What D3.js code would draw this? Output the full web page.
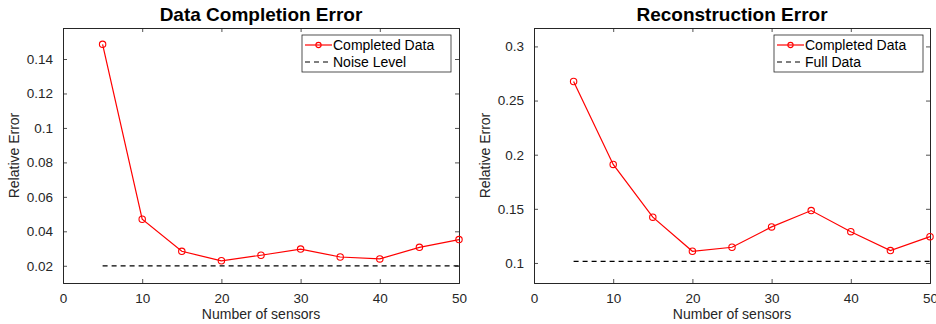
<!DOCTYPE html>
<html>
<head>
<meta charset="utf-8">
<script src="https://cdn.jsdelivr.net/npm/d3@7"></script>
<style>
    body { margin: 0; background: #fff; }
    svg { display: block; font-family: "Liberation Sans", Arial, Helvetica, sans-serif; }
</style>
</head>
<body>
<svg id="chart" width="936" height="324"></svg>
<script>
var sensors = [5, 10, 15, 20, 25, 30, 35, 40, 45, 50];
var xTicks = [0, 10, 20, 30, 40, 50];

var completionError = [0.1485, 0.047, 0.0284, 0.0229, 0.0261, 0.0297, 0.0251, 0.0240, 0.0307, 0.0352];
var noiseLevel = 0.0199;
var completionYTicks = [0.02, 0.04, 0.06, 0.08, 0.1, 0.12, 0.14];
var completionYLim = [0.01, 0.158];

var reconstructionError = [0.2676, 0.191, 0.1423, 0.1108, 0.1145, 0.1333, 0.1484, 0.1289, 0.1114, 0.1243];
var fullDataLevel = 0.1015;
var reconstructionYTicks = [0.1, 0.15, 0.2, 0.25, 0.3];
var reconstructionYLim = [0.0815, 0.317];

(function chartDefinition() {
    'use strict';

    var svg = d3.select('#chart');
    var axisColor = '#262626';

    drawPanel({
        left: 63, right: 459, top: 28, bottom: 283,
        title: 'Data Completion Error',
        values: completionError,
        level: noiseLevel,
        yTicks: completionYTicks,
        yLim: completionYLim,
        legend: ['Completed Data', 'Noise Level'],
        legendX: 302
    });

    drawPanel({
        left: 534, right: 930, top: 28, bottom: 283,
        title: 'Reconstruction Error',
        values: reconstructionError,
        level: fullDataLevel,
        yTicks: reconstructionYTicks,
        yLim: reconstructionYLim,
        legend: ['Completed Data', 'Full Data'],
        legendX: 774
    });

    function drawPanel(p) {
        var g = svg.append('g');

        var x = d3.scaleLinear().domain([0, 50]).range([p.left, p.right]);
        var y = d3.scaleLinear().domain(p.yLim).range([p.bottom, p.top]);

        /* axes (inward ticks, mirrored) */

        var axes = [
            d3.axisBottom(x).tickValues(xTicks).tickSize(-4).tickPadding(10).tickFormat(d3.format('d')),
            d3.axisTop(x).tickValues(xTicks).tickSize(-4).tickFormat(''),
            d3.axisLeft(y).tickValues(p.yTicks).tickSize(-4).tickPadding(10).tickFormat(d3.format('')),
            d3.axisRight(y).tickValues(p.yTicks).tickSize(-4).tickFormat('')
        ];
        var shifts = ['0,' + p.bottom, '0,' + p.top, p.left + ',0', p.right + ',0'];

        axes.forEach(function (axis, i) {
            var a = g.append('g')
                .attr('transform', 'translate(' + shifts[i] + ')')
                .call(axis)
            ;
            a.select('.domain').attr('stroke', axisColor).attr('stroke-width', 1);
            a.selectAll('.tick line').attr('stroke', axisColor).attr('stroke-width', 0.8);
            a.selectAll('.tick text')
                .attr('fill', axisColor)
                .style('font-size', '13.5px')
                .style('font-family', '"Liberation Sans", Arial, sans-serif')
            ;
        });

        /* --- titles */

        g.append('text')
            .attr('x', (p.left + p.right) / 2)
            .attr('y', 21)
            .attr('text-anchor', 'middle')
            .attr('font-size', '19px')
            .attr('font-weight', 'bold')
            .attr('fill', '#000')
            .text(p.title)
        ;

        g.append('text')
            .attr('x', (p.left + p.right) / 2)
            .attr('y', 319)
            .attr('text-anchor', 'middle')
            .attr('font-size', '14px')
            .attr('fill', axisColor)
            .text('Number of sensors')
        ;

        g.append('text')
            .attr('transform', 'translate(' + (p.left - 44) + ',' + ((p.top + p.bottom) / 2) + ') rotate(-90)')
            .attr('text-anchor', 'middle')
            .attr('font-size', '14px')
            .attr('fill', axisColor)
            .text('Relative Error')
        ;

        /* --- reference level */

        g.append('line')
            .attr('x1', x(sensors[0]))
            .attr('x2', x(sensors[sensors.length - 1]))
            .attr('y1', y(p.level))
            .attr('y2', y(p.level))
            .attr('stroke', '#000')
            .attr('stroke-width', 1.2)
            .attr('stroke-dasharray', '5,4')
        ;

        /* --- series */

        var pts = sensors.map(function (s, i) { return [s, p.values[i]]; });

        g.append('path')
            .datum(pts)
            .attr('fill', 'none')
            .attr('stroke', '#ff0000')
            .attr('stroke-width', 1.2)
            .attr('d', d3.line().x(function (d) { return x(d[0]); }).y(function (d) { return y(d[1]); }))
        ;

        g.selectAll(null)
            .data(pts)
            .enter()
            .append('circle')
            .attr('cx', function (d) { return x(d[0]); })
            .attr('cy', function (d) { return y(d[1]); })
            .attr('r', 3.2)
            .attr('fill', 'none')
            .attr('stroke', '#ff0000')
            .attr('stroke-width', 1.1)
        ;

        /* --- legend */

        var lg = g.append('g').attr('transform', 'translate(' + p.legendX + ',35)');

        lg.append('rect')
            .attr('width', 149)
            .attr('height', 37)
            .attr('fill', '#fff')
            .attr('stroke', axisColor)
            .attr('stroke-width', 0.8)
        ;

        lg.append('line')
            .attr('x1', 3).attr('x2', 30).attr('y1', 10).attr('y2', 10)
            .attr('stroke', '#ff0000').attr('stroke-width', 1.2)
        ;
        lg.append('circle')
            .attr('cx', 16.5).attr('cy', 10).attr('r', 2.6)
            .attr('fill', 'none').attr('stroke', '#ff0000').attr('stroke-width', 1.1)
        ;
        lg.append('line')
            .attr('x1', 3).attr('x2', 30).attr('y1', 27).attr('y2', 27)
            .attr('stroke', '#000').attr('stroke-width', 1.2).attr('stroke-dasharray', '5,4')
        ;

        lg.selectAll(null)
            .data(p.legend)
            .enter()
            .append('text')
            .attr('x', 31)
            .attr('y', function (d, i) { return 15 + i * 16.5; })
            .attr('font-size', '14px')
            .attr('fill', '#000')
            .text(function (d) { return d; })
        ;
    }
})();
</script>
</body>
</html>
